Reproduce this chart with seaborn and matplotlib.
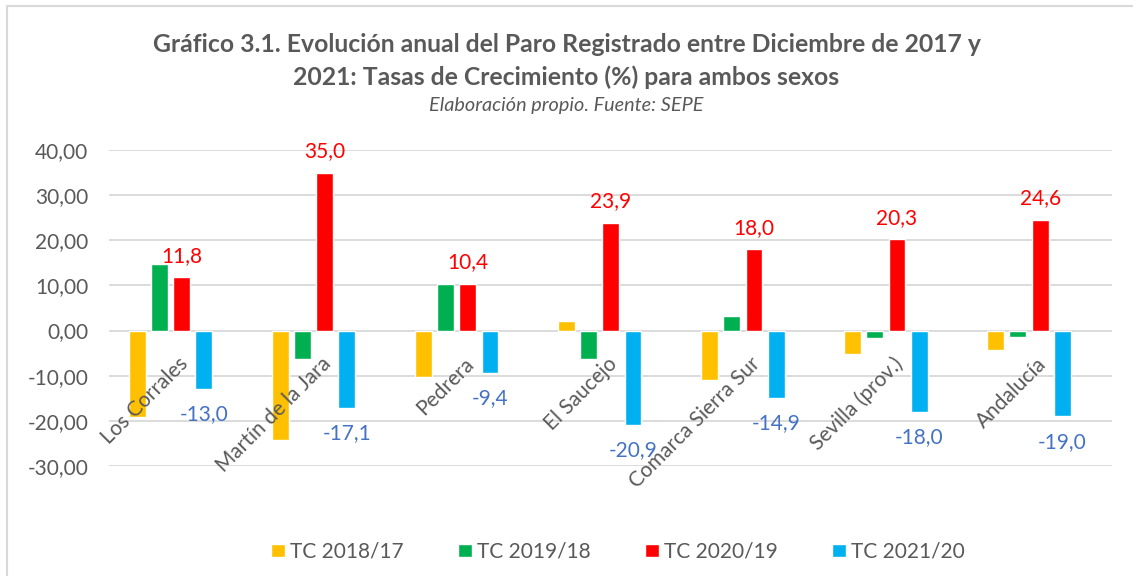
import pandas as pd
import seaborn as sns
import matplotlib.pyplot as plt
from matplotlib import transforms
from matplotlib.patches import Patch, Rectangle
from matplotlib.ticker import FuncFormatter, MultipleLocator

# ====================
# Data
# ====================

municipios = ['Los Corrales', 'Martín de la Jara', 'Pedrera', 'El Saucejo',
              'Comarca Sierra Sur', 'Sevilla (prov.)', 'Andalucía']
series = ['TC 2018/17', 'TC 2019/18', 'TC 2020/19', 'TC 2021/20']
tc_2018_17 = [-19.1, -24.3, -10.3, 2.1, -11.0, -5.3, -4.4]
tc_2019_18 = [14.8, -6.4, 10.4, -6.2, 3.3, -1.6, -1.5]
tc_2020_19 = [11.8, 35.0, 10.4, 23.9, 18.0, 20.3, 24.6]
tc_2021_20 = [-13.0, -17.1, -9.4, -20.9, -14.9, -18.0, -19.0]

colores = ['#FFC000', '#00B050', '#FF0000', '#00B0F0']

df = pd.DataFrame({
    'municipio': municipios * 4,
    'serie': [s for s in series for _ in municipios],
    'tc': tc_2018_17 + tc_2019_18 + tc_2020_19 + tc_2021_20,
})

# ====================
# Plotting
# ====================

sns.set_theme(style='white')
plt.rcParams['font.family'] = ['Lato', 'DejaVu Sans']
gris = '#595959'
rejilla = '#D9D9D9'

fig = plt.figure(figsize=(11.33, 5.76), dpi=100)
ax = fig.add_axes([109 / 1133, 1 - 466 / 576, 1003 / 1133, 316 / 576])

sns.barplot(data=df, x='municipio', y='tc', hue='serie', order=municipios,
            hue_order=series, palette=colores, width=0.62, gap=0.24,
            saturation=1, ax=ax, legend=False)

ax.set_ylim(-30, 40)
ax.set_xlim(-0.43, 6.58)
ax.yaxis.set_major_locator(MultipleLocator(10))
ax.yaxis.set_major_formatter(FuncFormatter(lambda v, p: f'{v:.2f}'.replace('.', ',')))
ax.tick_params(axis='y', labelsize=15, labelcolor=gris, length=0, pad=15)
ax.set_xticks([])
ax.set_xlabel('')
ax.set_ylabel('')
ax.grid(axis='y', color=rejilla, linewidth=1.3)
ax.set_axisbelow(True)
for s in ax.spines.values():
    s.set_visible(False)

# etiquetas de categoría junto al eje cero
trans = transforms.offset_copy(ax.transData, fig=fig, x=7, y=-23, units='dots')
for i, m in enumerate(municipios):
    ax.text(i, 0, m, rotation=45, ha='right', va='top', rotation_mode='anchor',
            fontsize=15, color=gris, transform=trans, zorder=5)

# etiquetas de datos
rojas = ax.bar_label(ax.containers[2], labels=[f'{v:.1f}'.replace('.', ',') for v in tc_2020_19],
                     padding=8, fontsize=15, color='#FF0000')
azules = ax.bar_label(ax.containers[3], labels=[f'{v:.1f}'.replace('.', ',') for v in tc_2021_20],
                      padding=11, fontsize=15, color='#4472C4')
for t in rojas + azules:
    t.set_zorder(6)

fig.text(0.5, 1 - 45 / 576, 'Gráfico 3.1. Evolución anual del Paro Registrado entre Diciembre de 2017 y',
         ha='center', va='center', fontsize=17.8, fontweight='bold', color=gris)
fig.text(0.5, 1 - 77 / 576, '2021: Tasas de Crecimiento (%) para ambos sexos',
         ha='center', va='center', fontsize=17.8, fontweight='bold', color=gris)
fig.text(0.5, 1 - 105 / 576, 'Elaboración propio. Fuente: SEPE',
         ha='center', va='center', fontsize=14.3, style='italic', color=gris)

handles = [Patch(facecolor=c) for c in colores]
leg = fig.legend(handles, series, loc='center', bbox_to_anchor=(618 / 1133, 1 - 552 / 576),
                 ncol=4, frameon=False, fontsize=15, handlelength=0.67, handleheight=0.63,
                 handletextpad=0.24, columnspacing=2.6)
for t in leg.get_texts():
    t.set_color(gris)

fig.patches.append(Rectangle((7 / 1133, -0.1), 1.2, 1.1 - 6 / 576, transform=fig.transFigure,
                             fill=False, edgecolor=rejilla, linewidth=1.5))

fig.savefig('out.png', dpi=100)
